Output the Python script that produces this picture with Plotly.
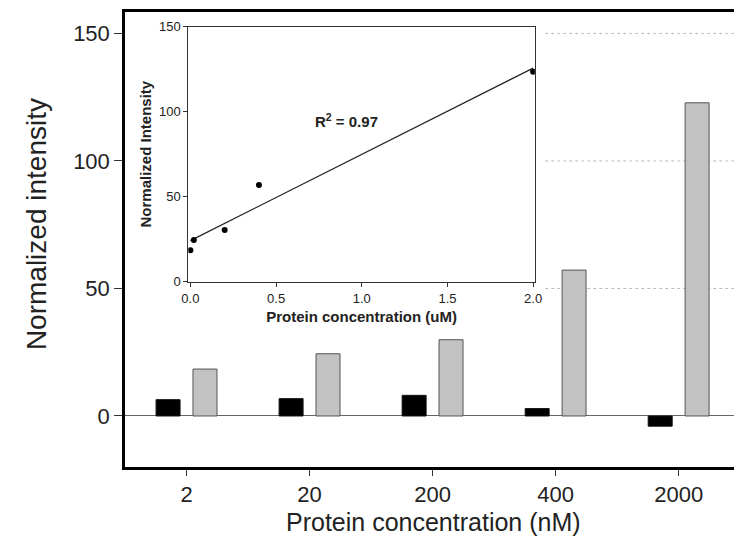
import numpy as np
import plotly.graph_objects as go

# ---- data ----
categories = ["2", "20", "200", "400", "2000"]
black_values = [6.4, 6.8, 8.1, 2.9, -4.0]
gray_values = [18.4, 24.4, 29.9, 57.2, 122.8]

inset_x = [0.0, 0.02, 0.2, 0.4, 2.0]
inset_y = [18.6, 24.5, 30.4, 56.9, 123.5]
r2_text = "<b>R<sup>2</sup> = 0.97</b>"

main_yticks = [0, 50, 100, 150]
inset_xticks = [0.0, 0.5, 1.0, 1.5, 2.0]
inset_yticks = [0, 50, 100, 150]

FONT = "Liberation Sans, Arial, sans-serif"
TXT = "#222222"

fig = go.Figure()

fig.add_trace(go.Bar(x=categories, y=black_values, marker=dict(color="black", line=dict(color="#111", width=1)),
                     showlegend=False, xaxis="x", yaxis="y"))
fig.add_trace(go.Bar(x=categories, y=gray_values, marker=dict(color="#c2c2c2", line=dict(color="#555", width=1)),
                     showlegend=False, xaxis="x", yaxis="y"))

# inset: scatter + linear fit
slope, intercept = np.polyfit(inset_x, inset_y, 1)
fit_x = [min(inset_x), max(inset_x)]
fit_y = [slope * v + intercept for v in fit_x]
fig.add_trace(go.Scatter(x=fit_x, y=fit_y, mode="lines", line=dict(color="#222", width=1.2),
                         showlegend=False, xaxis="x2", yaxis="y2"))
fig.add_trace(go.Scatter(x=inset_x, y=inset_y, mode="markers", marker=dict(color="black", size=6),
                         showlegend=False, xaxis="x2", yaxis="y2"))

# dotted gridlines only to the right of the inset
for v in main_yticks[1:]:
    fig.add_shape(type="line", xref="paper", x0=0.69, x1=1.0, yref="y", y0=v, y1=v,
                  line=dict(color="#bbbbbb", width=1, dash="dot"), layer="below")

fig.add_annotation(x=0.91, y=95, xref="x2", yref="y2", text=r2_text, showarrow=False,
                   font=dict(family=FONT, size=15, color=TXT))

# main axis titles
fig.add_annotation(x=-0.146, y=0.534, xref="paper", yref="paper", text="Normalized intensity",
                   textangle=-90, showarrow=False, xanchor="center", yanchor="middle",
                   font=dict(family=FONT, size=28, color=TXT))
fig.add_annotation(x=0.507, y=-0.121, xref="paper", yref="paper", text="Protein concentration (nM)",
                   showarrow=False, xanchor="center", yanchor="middle",
                   font=dict(family=FONT, size=25, color=TXT))

fig.update_layout(
    width=734, height=543,
    margin=dict(l=125, r=0, t=12, b=76, autoexpand=False),
    paper_bgcolor="white", plot_bgcolor="white",
    barmode="group", bargap=0.4, bargroupgap=0.35,
    font=dict(family=FONT, color=TXT),
    xaxis=dict(type="category", range=[-0.5, 4.45], showgrid=False, automargin=False,
               showline=True, linecolor="black", linewidth=2.5, mirror=True,
               ticks="outside", ticklen=6, tickcolor="#333", tickwidth=1,
               tickfont=dict(size=22, family=FONT, color=TXT)),
    yaxis=dict(range=[-20, 158.4], tickvals=main_yticks, showgrid=False, automargin=False,
               zeroline=True, zerolinecolor="#666", zerolinewidth=1,
               showline=True, linecolor="black", linewidth=2.5, mirror=False,
               ticks="outside", ticklen=8, tickcolor="#333", tickwidth=1,
               tickfont=dict(size=22, family=FONT, color=TXT)),
    xaxis2=dict(domain=[0.104, 0.673], anchor="y2", range=[-0.012, 2.01], tickvals=inset_xticks, tickformat=".1f",
                showgrid=False, zeroline=False, showline=True, linecolor="#333", linewidth=1.2, mirror=True,
                ticks="outside", ticklen=4, tickcolor="#333", automargin=False,
                tickfont=dict(size=13, family=FONT, color=TXT),
                title=dict(text="<b>Protein concentration (uM)</b>", font=dict(size=15, family=FONT, color=TXT), standoff=6)),
    yaxis2=dict(domain=[0.407, 0.968], anchor="x2", range=[0, 150], tickvals=inset_yticks,
                showgrid=False, zeroline=False, showline=True, linecolor="#333", linewidth=1.2, mirror=True,
                ticks="outside", ticklen=4, tickcolor="#333", automargin=False,
                tickfont=dict(size=13, family=FONT, color=TXT),
                title=dict(text="<b>Normalized Intensity</b>", font=dict(size=15, family=FONT, color=TXT), standoff=3)),
)

fig.write_html("out.html", config={"displayModeBar": False},
               post_script="document.body.style.margin='0';document.documentElement.style.overflow='hidden';document.body.style.overflow='hidden';")
